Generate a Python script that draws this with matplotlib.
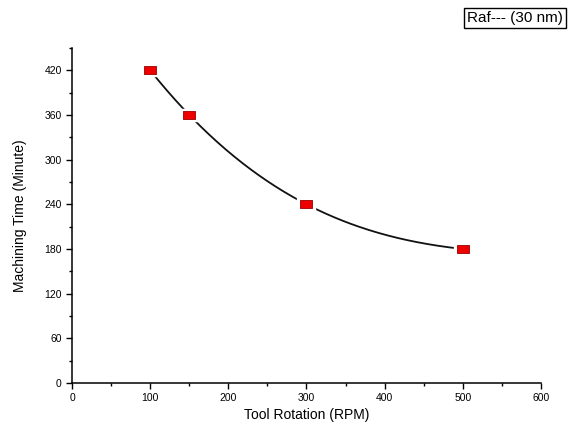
import numpy as np
import matplotlib
matplotlib.use("Agg")
import matplotlib.pyplot as plt
from matplotlib.path import Path
from matplotlib.ticker import MultipleLocator

rpm = [100, 150, 300, 500]
minutes = [420, 360, 240, 180]
xticks = [0, 100, 200, 300, 400, 500, 600]
yticks = [0, 60, 120, 180, 240, 300, 360, 420]

plt.rcParams['font.family'] = ['Liberation Sans', 'DejaVu Sans']

fig = plt.figure(figsize=(5.81, 4.36), dpi=100)
ax = fig.add_axes([0.124, 0.1216, 0.807, 0.7684])

# smooth curve through the points
coef = np.polyfit(rpm, minutes, 3)
xs = np.linspace(rpm[0], rpm[-1], 300)
ax.plot(xs, np.polyval(coef, xs), color='#111111', lw=1.3, zorder=2)

rect = Path([(-1.4, -1), (1.4, -1), (1.4, 1), (-1.4, 1), (-1.4, -1)],
            [Path.MOVETO, Path.LINETO, Path.LINETO, Path.LINETO, Path.CLOSEPOLY])
ax.plot(rpm, minutes, ls='none', marker=rect, ms=13, mfc='white', mec='white', zorder=3)
ax.plot(rpm, minutes, ls='none', marker=rect, ms=8.5, mfc='#ee0000', mec='#990000', mew=0.6, zorder=4)

ax.set_xlim(0, 600)
ax.set_ylim(0, 450)
ax.set_xticks(xticks)
ax.set_yticks(yticks)
ax.xaxis.set_minor_locator(MultipleLocator(50))
ax.yaxis.set_minor_locator(MultipleLocator(30))
ax.tick_params(which='both', direction='out', labelsize=7.5, width=1)
ax.tick_params(which='major', length=4)
ax.tick_params(which='minor', length=2.5)
for s in ['top', 'right']:
    ax.spines[s].set_visible(False)
for s in ['left', 'bottom']:
    ax.spines[s].set_linewidth(1.1)

ax.set_xlabel('Tool Rotation (RPM)', fontsize=10, labelpad=3)
ax.set_ylabel('Machining Time (Minute)', fontsize=10, labelpad=12)

fig.text(0.886, 0.958, 'Raf--- (30 nm)', fontsize=11, ha='center', va='center',
         bbox=dict(boxstyle='square,pad=0.2', fc='white', ec='black', lw=1))

fig.savefig('out.png', dpi=100)
